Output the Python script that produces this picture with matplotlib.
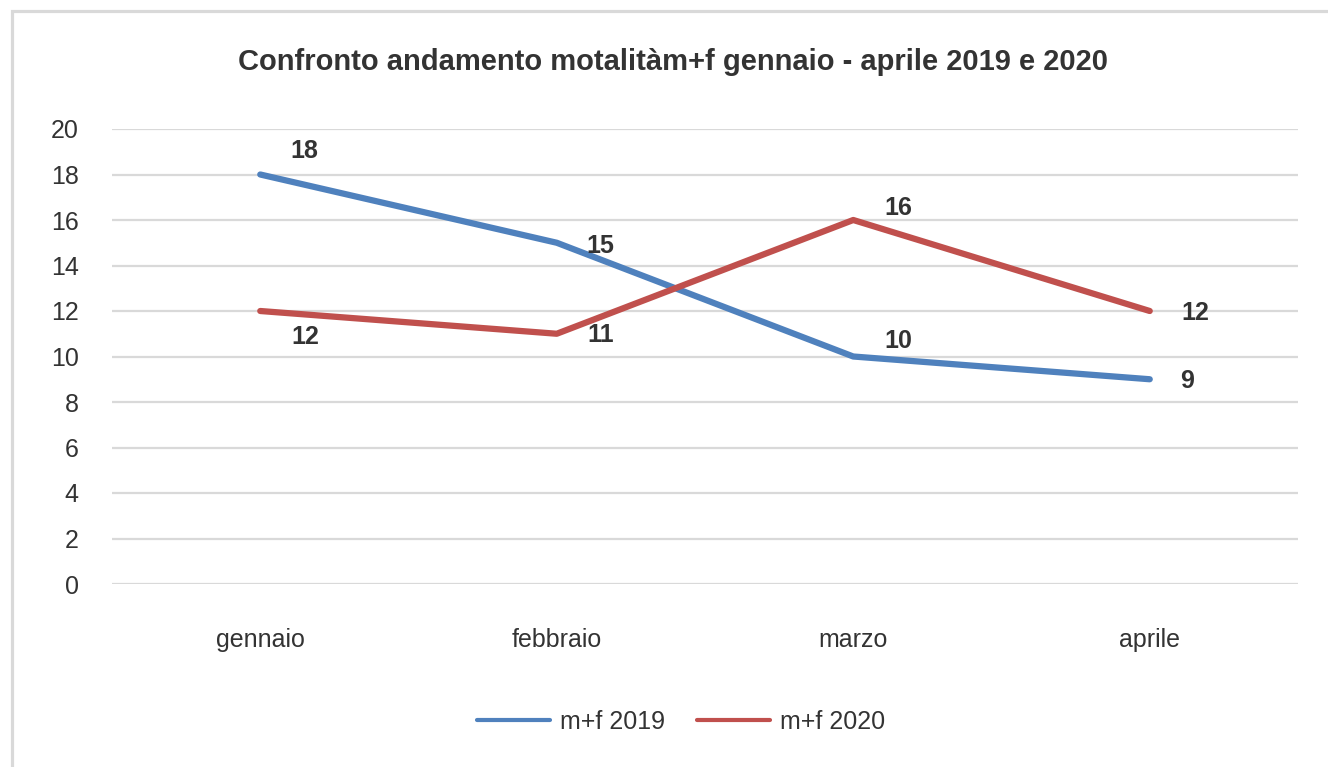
import matplotlib
matplotlib.use("Agg")
import matplotlib.pyplot as plt
from matplotlib.patches import Rectangle

categories = ["gennaio", "febbraio", "marzo", "aprile"]
values_2019 = [18, 15, 10, 9]
values_2020 = [12, 11, 16, 12]
series_names = ["m+f 2019", "m+f 2020"]
title = "Confronto andamento motalitàm+f gennaio - aprile 2019 e 2020"
yticks = [0, 2, 4, 6, 8, 10, 12, 14, 16, 18, 20]

# label offsets (pixels) for data labels
off_2019 = [(44, 23), (44, -3), (45, 16), (37, -2)]
off_2020 = [(45, -26), (44, -1), (45, 12), (46, -2)]

plt.rcParams['font.family'] = ['Liberation Sans', 'DejaVu Sans']

W, H = 1328, 767
fig = plt.figure(figsize=(W / 100, H / 100), dpi=100)
ax = fig.add_axes([112 / W, 1 - 584 / H, (1298 - 112) / W, (584 - 129) / H])

blue = "#4F81BD"
red = "#C0504D"
text_col = "#333333"

x = list(range(len(categories)))
l1, = ax.plot(x, values_2019, color=blue, lw=4.5, solid_capstyle='round', label=series_names[0], zorder=3)
l2, = ax.plot(x, values_2020, color=red, lw=4.5, solid_capstyle='round', label=series_names[1], zorder=3)

for xi, v, o in zip(x, values_2019, off_2019):
    ax.annotate(str(v), (xi, v), xytext=o, textcoords='offset pixels', ha='center', va='center',
                fontsize=18, fontweight='bold', color=text_col)
for xi, v, o in zip(x, values_2020, off_2020):
    ax.annotate(str(v), (xi, v), xytext=o, textcoords='offset pixels', ha='center', va='center',
                fontsize=18, fontweight='bold', color=text_col)

ax.set_xlim(-0.5, 3.5)
ax.set_ylim(0, 20)
ax.set_yticks(yticks)
ax.set_yticklabels([str(t) for t in yticks])
ax.set_xticks(x)
ax.set_xticklabels(categories)
ax.grid(axis='y', color='#D9D9D9', lw=1.6)
ax.set_axisbelow(True)
for s in ax.spines.values():
    s.set_visible(False)
ax.tick_params(axis='both', length=0, colors=text_col, labelsize=18)
ax.tick_params(axis='y', pad=24)
ax.tick_params(axis='x', pad=32)

fig.text(673 / W, 1 - 62 / H, title, ha='center', va='center', fontsize=21,
         color=text_col, fontweight='bold')

leg = fig.legend(handles=[l1, l2], loc='center', bbox_to_anchor=(681 / W, 1 - 722 / H), ncol=2,
                 frameon=False, fontsize=18, handlelength=2.9, columnspacing=1.3, handletextpad=0.4,
                 labelcolor=text_col)
for ln in leg.get_lines():
    ln.set_linewidth(3)

# outer chart border (only left and top visible)
fig.patches.append(Rectangle((11.5 / W, -0.1), 1.2, 1.1 - 10.5 / H, transform=fig.transFigure,
                             fill=False, edgecolor='#D9D9D9', lw=2.3))

fig.savefig("out.png", dpi=100)
